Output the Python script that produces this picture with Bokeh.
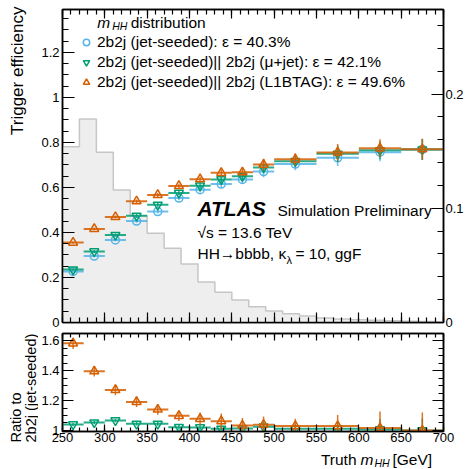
import math
from bokeh.plotting import figure
from bokeh.models import (Range1d, LinearAxis, SingleIntervalTicker, CustomJSTickFormatter,
                          Legend, LegendItem, Label, ColumnDataSource)
from bokeh.layouts import column, row
from bokeh.embed import file_html
from bokeh.resources import INLINE

# ---------------- data ----------------
bin_lo = [250, 275, 300, 325, 350, 375, 400, 425, 450, 475, 500, 550, 600, 650]
bin_hi = [275, 300, 325, 350, 375, 400, 425, 450, 475, 500, 550, 600, 650, 700]

eff_jet = [0.227, 0.295, 0.367, 0.451, 0.493, 0.553, 0.590, 0.615, 0.636, 0.671, 0.704, 0.732, 0.757, 0.769]
eff_mu  = [0.235, 0.316, 0.389, 0.474, 0.523, 0.576, 0.608, 0.636, 0.650, 0.689, 0.717, 0.750, 0.765, 0.769]
eff_l1  = [0.355, 0.416, 0.469, 0.539, 0.567, 0.607, 0.637, 0.665, 0.668, 0.702, 0.725, 0.756, 0.774, 0.770]
eff_err = [0.005, 0.006, 0.007, 0.008, 0.009, 0.010, 0.012, 0.015, 0.018, 0.026, 0.027, 0.037, 0.040, 0.047]

ratio_l1     = [1.582, 1.396, 1.271, 1.191, 1.140, 1.098, 1.078, 1.062, 1.033, 1.038, 1.029, 1.029, 1.016, 1.000]
ratio_l1_err = [0.038, 0.035, 0.035, 0.035, 0.035, 0.035, 0.042, 0.052, 0.050, 0.055, 0.050, 0.075, 0.110, 0.120]
ratio_mu     = [1.040, 1.053, 1.067, 1.044, 1.044, 1.022, 1.020, 1.011, 1.013, 1.025, 1.011, 1.011, 1.007, 1.000]
ratio_mu_err = [0.012, 0.012, 0.012, 0.012, 0.014, 0.016, 0.018, 0.022, 0.025, 0.030, 0.030, 0.045, 0.070, 0.080]

hist_edges = [250, 270, 290, 310, 330, 350, 370, 390, 410, 430, 450, 470, 490, 510,
              530, 550, 570, 590, 610, 630, 650, 670, 690, 710]
hist_vals = [0.1539, 0.1782, 0.1490, 0.1160, 0.0935, 0.0781, 0.0650, 0.0512, 0.0355, 0.0264,
             0.0197, 0.0138, 0.0101, 0.0077, 0.0057, 0.0040, 0.0031, 0.0025, 0.0020, 0.0016,
             0.0012, 0.0009, 0.0007]

labels = ["2b2j (jet-seeded): \u03b5 = 40.3%",
          "2b2j (jet-seeded)|| 2b2j (\u03bc+jet): \u03b5 = 42.1%",
          "2b2j (jet-seeded)|| 2b2j (L1BTAG): \u03b5 = 49.6%"]

BLUE, GREEN, ORANGE = "#56B4E9", "#009E73", "#D55E00"
FONT = "Liberation Sans"

# pixel -> data helpers for text placement only (page origin at 0,0)
def px(x):
    return 250 + (x - 59) * 450.0 / 384.0
def ty(y):
    return (322 - y) / 225.0

fmt_code = "return String(Number(tick.toFixed(3)));"

def style(ax, ticker, major, minor, show=True, standoff=3, fmt=True):
    ax.ticker = ticker
    ax.major_tick_in = major
    ax.major_tick_out = 0
    ax.minor_tick_in = minor
    ax.minor_tick_out = 0
    ax.axis_line_color = "black"
    ax.axis_line_width = 1.5
    ax.major_tick_line_width = 1.2
    ax.minor_tick_line_width = 1.2
    ax.major_tick_line_color = "black"
    ax.minor_tick_line_color = "black"
    ax.major_label_text_font = FONT
    ax.major_label_text_color = "black"
    if show:
        ax.major_label_text_font_size = "13px"
        ax.major_label_standoff = standoff
    else:
        ax.major_label_text_font_size = "0px"
        ax.major_label_text_alpha = 0
        ax.major_label_standoff = 0
    if fmt:
        ax.formatter = CustomJSTickFormatter(code=fmt_code)

def lab(fig, x, y, text, size, style_="normal", align="left", angle=0.0, xoff=0):
    # y is the vertical centre of the text line (baseline "middle")
    fig.add_layout(Label(x=x, y=y, text=text, x_offset=xoff, text_font=FONT,
                         text_font_size=size, text_font_style=style_, text_align=align,
                         text_baseline="middle", angle=angle, text_color="black"))

def blank(fig):
    fig.xgrid.visible = False
    fig.ygrid.visible = False
    fig.outline_line_color = None
    fig.min_border_left = fig.min_border_right = fig.min_border_top = fig.min_border_bottom = 0

xr = Range1d(250, 700)

# ---------------- top panel ----------------
p = figure(width=429, height=330, x_range=xr, y_range=Range1d(0, 1.3911),
           output_backend="svg", toolbar_location=None,
           min_border_left=21, min_border_right=24, min_border_top=9, min_border_bottom=8)
p.extra_y_ranges = {"hist": Range1d(0, 0.2741)}
p.xgrid.visible = False
p.ygrid.visible = False
p.outline_line_color = "black"
p.outline_line_width = 1.5

style(p.xaxis[0], SingleIntervalTicker(interval=50, num_minor_ticks=5), 10, 5, show=False, fmt=False)
style(p.yaxis[0], SingleIntervalTicker(interval=0.2, num_minor_ticks=4), 12, 6, show=True, standoff=3)
ax_top = LinearAxis()
style(ax_top, SingleIntervalTicker(interval=50, num_minor_ticks=5), 9, 5, show=False, fmt=False)
p.add_layout(ax_top, "above")
ax_right = LinearAxis(y_range_name="hist")
style(ax_right, SingleIntervalTicker(interval=0.1, num_minor_ticks=5), 12, 6, show=True, standoff=2)
p.add_layout(ax_right, "right")

# histogram
p.varea_step(x=hist_edges, y1=0, y2=hist_vals + [hist_vals[-1]], step_mode="after",
             fill_color="#eeeeee", y_range_name="hist")
step_x = [hist_edges[0]] + hist_edges
step_y = [0] + hist_vals + [hist_vals[-1]]
p.step(x=step_x, y=step_y, mode="after", line_color="#c6c6c6", line_width=1.5, y_range_name="hist")
hist_key = p.line(x=[], y=[], line_color="#cfcfcf", line_width=5)

centers = [(a + b) / 2.0 for a, b in zip(bin_lo, bin_hi)]

def series(fig, vals, errs, color, marker, size):
    src = ColumnDataSource(dict(lo=bin_lo, hi=bin_hi, xc=centers, y=vals,
                                ylo=[v - e for v, e in zip(vals, errs)],
                                yhi=[v + e for v, e in zip(vals, errs)]))
    fig.segment(x0="lo", x1="hi", y0="y", y1="y", line_color=color, line_width=2,
                line_alpha=0.85, source=src)
    fig.segment(x0="xc", x1="xc", y0="ylo", y1="yhi", line_color=color, line_width=1.5,
                line_alpha=0.85, source=src)
    return fig.scatter(x="xc", y="y", marker=marker, size=size, line_color=color,
                       fill_alpha=0, line_width=1.5, source=src)

r_jet = series(p, eff_jet, eff_err, BLUE, "circle", 8)
r_mu = series(p, eff_mu, eff_err, GREEN, "inverted_triangle", 9)
r_l1 = series(p, eff_l1, eff_err, ORANGE, "triangle", 9)

legend = Legend(items=[LegendItem(label=" ", renderers=[hist_key]),
                       LegendItem(label=labels[0], renderers=[r_jet]),
                       LegendItem(label=labels[1], renderers=[r_mu]),
                       LegendItem(label=labels[2], renderers=[r_l1])],
                location=(13, 227), glyph_width=16, glyph_height=20, label_height=20,
                label_standoff=3, spacing=0, padding=3, margin=0,
                border_line_alpha=0, background_fill_alpha=0,
                label_text_font=FONT, label_text_font_size="15.5px", label_text_color="black")
p.add_layout(legend)

# first legend row text: m_HH distribution
lab(p, px(94), ty(22), "m", "15.5px", style_="italic")
lab(p, px(94), ty(26), "HH", "10.5px", style_="italic", xoff=15)
lab(p, px(94), ty(22), "distribution", "15.5px", xoff=33.5)

# ATLAS block (centres of text lines)
lab(p, px(195), ty(208.5), "ATLAS", "21px", style_="bold italic")
lab(p, px(195), ty(210.3), "Simulation Preliminary", "15.5px", xoff=80)
lab(p, px(195), ty(232.3), "\u221as = 13.6 TeV", "15.5px")
lab(p, px(195), ty(253.3), "HH\u2192bbbb, \u03ba", "15.5px")
lab(p, px(195), ty(259.7), "\u03bb", "11px", xoff=89)
lab(p, px(195), ty(253.3), "= 10, ggF", "15.5px", xoff=98)

# ---------------- ratio panel ----------------
r = figure(width=429, height=117, x_range=xr, y_range=Range1d(0.993, 1.648),
           output_backend="svg", toolbar_location=None,
           min_border_left=21, min_border_right=24, min_border_top=3, min_border_bottom=16)
r.xgrid.visible = False
r.ygrid.visible = False
r.outline_line_color = "black"
r.outline_line_width = 1.5

style(r.xaxis[0], SingleIntervalTicker(interval=50, num_minor_ticks=5), 7, 4, show=True, standoff=1, fmt=False)
style(r.yaxis[0], SingleIntervalTicker(interval=0.2, num_minor_ticks=4), 11, 5, show=True, standoff=3)
rt = LinearAxis()
style(rt, SingleIntervalTicker(interval=50, num_minor_ticks=5), 7, 4, show=False, fmt=False)
r.add_layout(rt, "above")
rr = LinearAxis()
style(rr, SingleIntervalTicker(interval=0.2, num_minor_ticks=4), 11, 5, show=False)
r.add_layout(rr, "right")

series(r, ratio_mu, ratio_mu_err, GREEN, "inverted_triangle", 9)
series(r, ratio_l1, ratio_l1_err, ORANGE, "triangle", 9)

# ---------------- x title strip (page pixel coordinates) ----------------
xt = figure(width=429, height=22, x_range=Range1d(38, 467), y_range=Range1d(469, 447),
            output_backend="svg", toolbar_location=None,
            x_axis_location=None, y_axis_location=None)
blank(xt)
lab(xt, 329, 458.5, "Truth", "15.5px")
lab(xt, 329, 458.5, "m", "15.5px", style_="italic", xoff=39.5)
lab(xt, 329, 462, "HH", "10.5px", style_="italic", xoff=53.5)
lab(xt, 329, 458.5, "[GeV]", "15.5px", xoff=71.5)

# ---------------- y title strip (page pixel coordinates) ----------------
yt = figure(width=38, height=469, x_range=Range1d(0, 38), y_range=Range1d(469, 0),
            output_backend="svg", toolbar_location=None,
            x_axis_location=None, y_axis_location=None)
blank(yt)
lab(yt, 17, 6, "Trigger efficiency", "17px", align="right", angle=math.pi / 2)
lab(yt, 15, 442, "Ratio to", "14.5px", align="left", angle=math.pi / 2)
lab(yt, 30, 442, "2b2j (jet-seeded)", "14.5px", align="left", angle=math.pi / 2)

layout = row(yt, column(p, r, xt))
open("out.html", "w").write(file_html(layout, INLINE))
